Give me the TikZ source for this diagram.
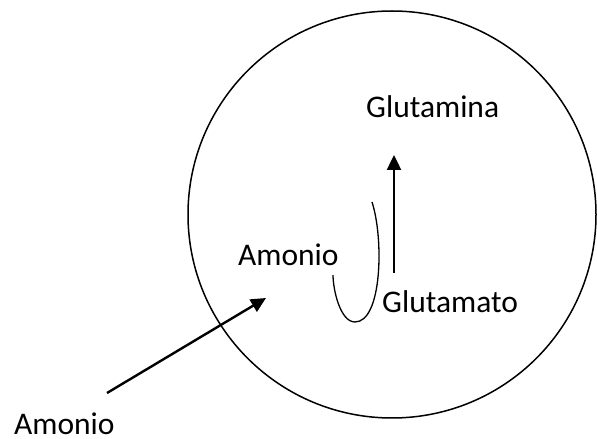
\documentclass[tikz,border=0pt]{standalone}
\usepackage{fontspec}
\setmainfont{Carlito}
\usetikzlibrary{arrows.meta}
\begin{document}
\begin{tikzpicture}[x=1pt,y=1pt,
  label/.style={anchor=base west,inner sep=0pt,font=\fontsize{31.5}{36}\selectfont},
  bigarrow/.style={line width=2.4pt,-{Triangle[width=14pt,length=15pt]}},
  cellwall/.style={line width=1.5pt},
  hook/.style={line width=1.3pt}]
\useasboundingbox (0,0) rectangle (597,439);
\draw[cellwall] (392,224.5) ellipse [x radius=204pt, y radius=203.5pt];
\node[label] (glutamina) at (366,321) {Glutamina};
\node[label] (glutamato) at (382,126) {Glutamato};
\node[label] (amonioIn) at (238,173.5) {Amonio};
\node[label] (amonioOut) at (14,5) {Amonio};
\coordinate (inStart) at (107,46);
\coordinate (inEnd) at (266,141);
\coordinate (upStart) at (394,166);
\coordinate (upEnd) at (394,284);
\draw[bigarrow] (inStart) -- (inEnd);
\draw[bigarrow] (upStart) -- (upEnd);
\draw[hook] (372,237) .. controls (384,200) and (382,117) .. (355,117)
  .. controls (340,117) and (333,150) .. (333,164);
\end{tikzpicture}
\end{document}
